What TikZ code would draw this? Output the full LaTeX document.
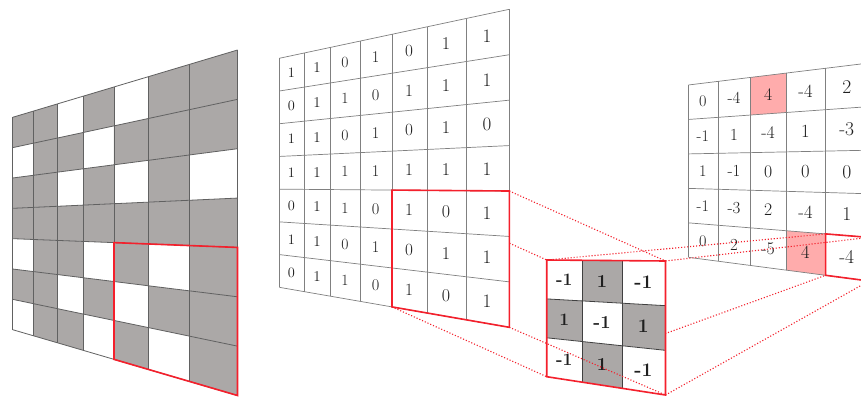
\documentclass[tikz,border=0pt]{standalone}
\definecolor{cgray}{RGB}{171,168,167}
\definecolor{cred}{RGB}{244,32,44}
\definecolor{cpink}{RGB}{255,172,172}
\newcommand\setquad[6]{\def\gqxl{#1}\def\gqytl{#2}\def\gqybl{#3}\def\gqxr{#4}\def\gqytr{#5}\def\gqybr{#6}}
\newcommand\qpt[3]{%
  \pgfmathsetmacro\gqhl{\gqybl-\gqytl}%
  \pgfmathsetmacro\gqhr{\gqybr-\gqytr}%
  \pgfmathsetmacro\gqt{(#2)*\gqhl/((1-(#2))*\gqhr+(#2)*\gqhl)}%
  \pgfmathsetmacro\gqx{\gqxl+\gqt*(\gqxr-\gqxl)}%
  \pgfmathsetmacro\gqyt{\gqytl+\gqt*(\gqytr-\gqytl)}%
  \pgfmathsetmacro\gqyb{\gqybl+\gqt*(\gqybr-\gqybl)}%
  \pgfmathsetmacro\gqy{\gqyt+(#3)*(\gqyb-\gqyt)}%
  \coordinate (#1) at (\gqx,\gqy);}
\def\inmat{{1,1,0,1,0,1,1},{0,1,1,0,1,1,1},{1,1,0,1,0,1,0},{1,1,1,1,1,1,1},{0,1,1,0,1,0,1},{1,1,0,1,0,1,1},{0,1,1,0,1,0,1}}
\def\filtmat{{-1,1,-1},{1,-1,1},{-1,1,-1}}
\def\outmat{{0,-4,4,-4,2},{-1,1,-4,1,-3},{1,-1,0,0,0},{-1,-3,2,-4,1},{0,2,-5,4,-4}}
\begin{document}
\begin{tikzpicture}[x=1pt,y=-1pt,
  leftline/.style={draw=black!62,line width=0.8pt},
  midline/.style={draw=black!50,line width=0.7pt},
  filtline/.style={draw=black!75,line width=0.8pt},
  redbox/.style={draw=cred,line width=1.6pt,line join=miter},
  link/.style={draw=cred,line width=1.1pt,dash pattern=on 1.1pt off 1.9pt},
  num/.style={inner sep=0pt,text=black!88}]
\useasboundingbox (0,0) rectangle (861,396);
\clip (0,0) rectangle (861,396);
\fill[white] (0,0) rectangle (861,396);

% ---------------- output grid
\setquad{688.3}{85}{257.3}{869}{63}{281}
\foreach \row [count=\j from 0] in \outmat {
  \foreach \val [count=\i from 0] in \row {
    \qpt{a}{\i/5}{\j/5}\qpt{b}{(\i+1)/5}{\j/5}\qpt{c}{(\i+1)/5}{(\j+1)/5}\qpt{d}{\i/5}{(\j+1)/5}
    \pgfmathtruncatemacro\ispink{or(and(\i==2,\j==0),and(\i==3,\j==4))}
    \ifnum\ispink=1 \fill[cpink] (a)--(b)--(c)--(d)--cycle; \fi
    \qpt{oc-\j-\i}{(\i+.5)/5}{(\j+.5)/5}
    \pgfmathsetmacro\fs{0.46*(\gqyb-\gqyt)/5}
    \node[num,font=\fontsize{\fs pt}{\fs pt}\selectfont] (ot-\j-\i) at (oc-\j-\i) {\val};
  }
}
\foreach \k in {0,...,5}{
  \qpt{p}{\k/5}{0}\qpt{q}{\k/5}{1}\draw[midline] (p)--(q);
  \qpt{p}{0}{\k/5}\qpt{q}{1}{\k/5}\draw[midline] (p)--(q);
}
\qpt{oR1}{4/5}{4/5}\qpt{oR2}{1}{4/5}\qpt{oR3}{1}{1}\qpt{oR4}{4/5}{1}
\draw[redbox] (oR1)--(oR2)--(oR3)--(oR4)--cycle;

% ---------------- filter corners and links to output
\setquad{546.7}{260}{376.7}{665.5}{261}{395}
\qpt{fTL}{0}{0}\qpt{fTR}{1}{0}\qpt{fBR}{1}{1}\qpt{fBL}{0}{1}
\draw[link] (fTL)--(oR1);
\draw[link] (fTR)--(oR2);
\draw[link] (fBR)--(oR3);
\draw[link] (fBL)--(oR4);

% ---------------- filter
\foreach \row [count=\j from 0] in \filtmat {
  \foreach \val [count=\i from 0] in \row {
    \qpt{a}{\i/3}{\j/3}\qpt{b}{(\i+1)/3}{\j/3}\qpt{c}{(\i+1)/3}{(\j+1)/3}\qpt{d}{\i/3}{(\j+1)/3}
    \ifnum\val=1 \fill[cgray] (a)--(b)--(c)--(d)--cycle;
    \else \fill[white] (a)--(b)--(c)--(d)--cycle; \fi
    \qpt{fc-\j-\i}{(\i+.5)/3}{(\j+.5)/3}
    \pgfmathsetmacro\fs{0.44*(\gqyb-\gqyt)/3}
    \node[num,font=\bfseries\fontsize{\fs pt}{\fs pt}\selectfont] (ft-\j-\i) at (fc-\j-\i) {\val};
  }
}
\foreach \k in {1,2}{
  \qpt{p}{\k/3}{0}\qpt{q}{\k/3}{1}\draw[filtline] (p)--(q);
  \qpt{p}{0}{\k/3}\qpt{q}{1}{\k/3}\draw[filtline] (p)--(q);
}
\draw[redbox] (fTL)--(fTR)--(fBR)--(fBL)--cycle;

% ---------------- middle grid red box corners and links to filter
\setquad{279.3}{58.3}{287.3}{509.3}{9.3}{327.3}
\qpt{mR1}{4/7}{4/7}\qpt{mR2}{1}{4/7}\qpt{mR3}{1}{1}\qpt{mR4}{4/7}{1}
\draw[link] (mR1)--(fTL);
\draw[link] (mR2)--(fTR);
\draw[link] (mR3)--(fBR);
\draw[link] (mR4)--(fBL);

% ---------------- middle grid
\qpt{mTL}{0}{0}\qpt{mTR}{1}{0}\qpt{mBR}{1}{1}\qpt{mBL}{0}{1}
\fill[white] (mTL)--(mTR)--(mBR)--(mBL)--cycle;
\foreach \row [count=\j from 0] in \inmat {
  \foreach \val [count=\i from 0] in \row {
    \qpt{mc-\j-\i}{(\i+.5)/7}{(\j+.5)/7}
    \pgfmathsetmacro\fs{0.43*(\gqyb-\gqyt)/7}
    \node[num,font=\fontsize{\fs pt}{\fs pt}\selectfont] (mt-\j-\i) at (mc-\j-\i) {\val};
  }
}
\foreach \k in {0,...,7}{
  \qpt{p}{\k/7}{0}\qpt{q}{\k/7}{1}\draw[midline] (p)--(q);
  \qpt{p}{0}{\k/7}\qpt{q}{1}{\k/7}\draw[midline] (p)--(q);
}
\draw[redbox] (mR1)--(mR2)--(mR3)--(mR4)--cycle;

% ---------------- left grid
\setquad{12.7}{117.3}{329.7}{237.5}{50}{395.5}
\foreach \row [count=\j from 0] in \inmat {
  \foreach \val [count=\i from 0] in \row {
    \qpt{a}{\i/7}{\j/7}\qpt{b}{(\i+1)/7}{\j/7}\qpt{c}{(\i+1)/7}{(\j+1)/7}\qpt{d}{\i/7}{(\j+1)/7}
    \ifnum\val=1 \fill[cgray] (a)--(b)--(c)--(d)--cycle; \fi
  }
}
\foreach \k in {0,...,7}{
  \qpt{p}{\k/7}{0}\qpt{q}{\k/7}{1}\draw[leftline] (p)--(q);
  \qpt{p}{0}{\k/7}\qpt{q}{1}{\k/7}\draw[leftline] (p)--(q);
}
\qpt{lR1}{4/7}{4/7}\qpt{lR2}{1}{4/7}\qpt{lR3}{1}{1}\qpt{lR4}{4/7}{1}
\draw[redbox] (lR1)--(lR2)--(lR3)--(lR4)--cycle;
\end{tikzpicture}
\end{document}
